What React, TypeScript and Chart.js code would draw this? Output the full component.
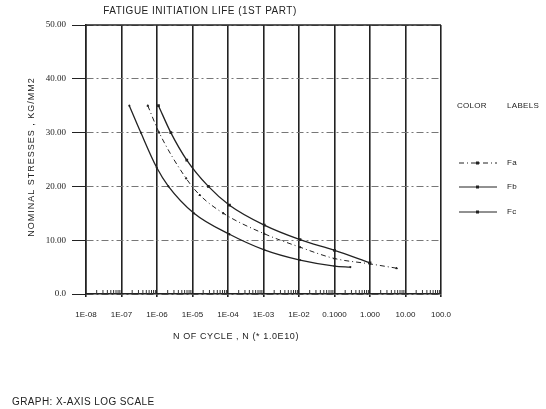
import React, { useEffect, useRef } from "react";
import { Chart, registerables } from "chart.js";

Chart.register(...registerables);

const xTickValues = [1e-8, 1e-7, 1e-6, 1e-5, 1e-4, 1e-3, 1e-2, 0.1, 1, 10, 100];
const xTickLabels = ["1E-08", "1E-07", "1E-06", "1E-05", "1E-04", "1E-03", "1E-02", "0.1000", "1.000", "10.00", "100.0"];
const yTickValues = [0, 10, 20, 30, 40, 50];
const yTickLabels = ["0.0", "10.00", "20.00", "30.00", "40.00", "50.00"];

const seriesNames = ["Fa", "Fb", "Fc"];
const faCycles = [5.5e-7, 1.15e-6, 6.6e-6, 1.6e-5, 7.4e-5, 1.05e-3, 1.07e-2, 0.1, 1.0, 5.6];
const faStress = [35, 30, 21.5, 18.4, 15, 11.2, 8.7, 6.6, 5.6, 4.8];
const fbCycles = [1.66e-7, 3.5e-7, 9.8e-7, 2.1e-6, 1.1e-5, 1.1e-4, 1.05e-3, 1.07e-2, 0.1, 0.28];
const fbStress = [35, 30, 23.5, 20, 15, 11.1, 8.2, 6.3, 5.2, 5.0];
const fcCycles = [1.1e-6, 2.45e-6, 6.9e-6, 2.8e-5, 1.1e-4, 1.05e-3, 1.07e-2, 0.1, 1.0];
const fcStress = [35, 30, 24.9, 20, 16.5, 12.8, 10.1, 8.1, 5.8];

const chartTitle = "FATIGUE INITIATION LIFE (1ST PART)";
const xTitle = "N OF CYCLE , N (* 1.0E10)";
const yTitle = "NOMINAL STRESSES , KG/MM2";
const legendTitleA = "COLOR";
const legendTitleB = "LABELS";
const footer = "GRAPH: X-AXIS LOG SCALE";

const FONT = "'Liberation Sans', Arial, sans-serif";
const INK = "#222";

const styles = [
  { dash: [5, 3, 1, 3], style: "triangle" },
  { dash: [], style: "crossRot" },
  { dash: [], style: "rect" },
];

const extrasPlugin = {
  id: "extras",
  afterDraw(chart: any) {
    const ctx = chart.ctx;
    const area = chart.chartArea;
    const xs = chart.scales.x;
    ctx.save();
    // top border
    ctx.strokeStyle = INK;
    ctx.lineWidth = 1.5;
    ctx.beginPath();
    ctx.moveTo(area.left, area.top);
    ctx.lineTo(area.right, area.top);
    ctx.stroke();
    // minor log ticks on x axis
    ctx.lineWidth = 1;
    ctx.strokeStyle = "#333";
    for (let d = -8; d < 2; d++) {
      for (let m = 2; m <= 9; m++) {
        const px = xs.getPixelForValue(m * Math.pow(10, d));
        ctx.beginPath();
        ctx.moveTo(px, area.bottom);
        ctx.lineTo(px, area.bottom - 4);
        ctx.stroke();
      }
    }
    ctx.fillStyle = INK;
    ctx.textBaseline = "middle";
    // title
    ctx.font = `10px ${FONT}`;
    ctx.letterSpacing = "0.5px";
    ctx.textAlign = "center";
    ctx.fillText(chartTitle, 200, 11);
    // x title
    ctx.font = `9px ${FONT}`;
    ctx.letterSpacing = "0.6px";
    ctx.fillText(xTitle, 236, 337);
    // y title
    ctx.save();
    ctx.translate(32, 157);
    ctx.rotate(-Math.PI / 2);
    ctx.font = `9px ${FONT}`;
    ctx.letterSpacing = "1px";
    ctx.fillText(yTitle, 0, 0);
    ctx.restore();
    // legend
    ctx.font = `8px ${FONT}`;
    ctx.letterSpacing = "0.3px";
    ctx.textAlign = "left";
    ctx.fillText(legendTitleA, 457, 106);
    ctx.fillText(legendTitleB, 507, 106);
    const ys = [163, 187, 212];
    chart.data.datasets.forEach((ds: any, i: number) => {
      const y = ys[i];
      ctx.strokeStyle = ds.borderColor;
      ctx.lineWidth = 1;
      ctx.setLineDash(styles[i].dash);
      ctx.beginPath();
      ctx.moveTo(459, y);
      ctx.lineTo(497, y);
      ctx.stroke();
      ctx.setLineDash([]);
      ctx.fillStyle = INK;
      ctx.fillRect(476, y - 1.5, 3, 3);
      ctx.fillText(ds.label, 507, y);
    });
    // footer
    ctx.font = `10px ${FONT}`;
    ctx.letterSpacing = "0.4px";
    ctx.fillText(footer, 12, 402);
    ctx.restore();
  },
};

export default function App() {
  const ref = useRef<HTMLCanvasElement | null>(null);
  useEffect(() => {
    if (!ref.current) return;
    const mk = (cycles: number[], stress: number[]) => cycles.map((x, i) => ({ x, y: stress[i] }));
    const chart = new Chart(ref.current, {
      type: "scatter",
      data: {
        datasets: [
          { label: seriesNames[0], data: mk(faCycles, faStress) },
          { label: seriesNames[1], data: mk(fbCycles, fbStress) },
          { label: seriesNames[2], data: mk(fcCycles, fcStress) },
        ].map((d, i) => ({
          ...d,
          showLine: true,
          borderColor: INK,
          backgroundColor: INK,
          borderWidth: i === 0 ? 1 : 1.3,
          borderDash: styles[i].dash,
          pointRadius: 1,
          pointStyle: styles[i].style,
          cubicInterpolationMode: "monotone",
          tension: 0.4,
        })),
      },
      options: {
        animation: false,
        responsive: false,
        devicePixelRatio: 1,
        layout: { padding: { left: 0, top: 25, right: 105, bottom: 85 } },
        plugins: { legend: { display: false }, tooltip: { enabled: false } },
        font: { family: FONT },
        scales: {
          x: {
            type: "logarithmic",
            min: 1e-8,
            max: 100,
            afterBuildTicks: (s: any) => {
              s.ticks = xTickValues.map((v) => ({ value: v }));
            },
            afterFit: (s: any) => {
              s.height = 30;
            },
            ticks: {
              autoSkip: false,
              maxRotation: 0,
              minRotation: 0,
              padding: 13,
              color: INK,
              font: { family: FONT, size: 8 },
              callback: (_v: any, i: number) => xTickLabels[i],
            },
            grid: { color: INK, lineWidth: 1.6, tickLength: 3, tickColor: INK },
            border: { display: true, color: INK, width: 1.5 },
          },
          y: {
            min: 0,
            max: 50,
            afterBuildTicks: (s: any) => {
              s.ticks = yTickValues.map((v) => ({ value: v }));
            },
            afterFit: (s: any) => {
              s.width = 86;
            },
            ticks: {
              padding: 6,
              color: INK,
              font: { family: "'Liberation Serif', serif", size: 9 },
              callback: (_v: any, i: number) => yTickLabels[i],
            },
            grid: { color: "#777", lineWidth: 1, tickLength: 14, tickColor: INK, tickBorderDash: [] },
            border: { display: true, color: INK, width: 1.5, dash: [7, 3, 2, 3] },
          },
        },
      },
      plugins: [extrasPlugin],
    } as any);
    return () => chart.destroy();
  }, []);
  return (
    <div style={{ position: "fixed", left: 0, top: 0, width: 546, height: 409, background: "#fff" }}>
      <canvas ref={ref} width={546} height={409} style={{ display: "block" }} />
    </div>
  );
}
